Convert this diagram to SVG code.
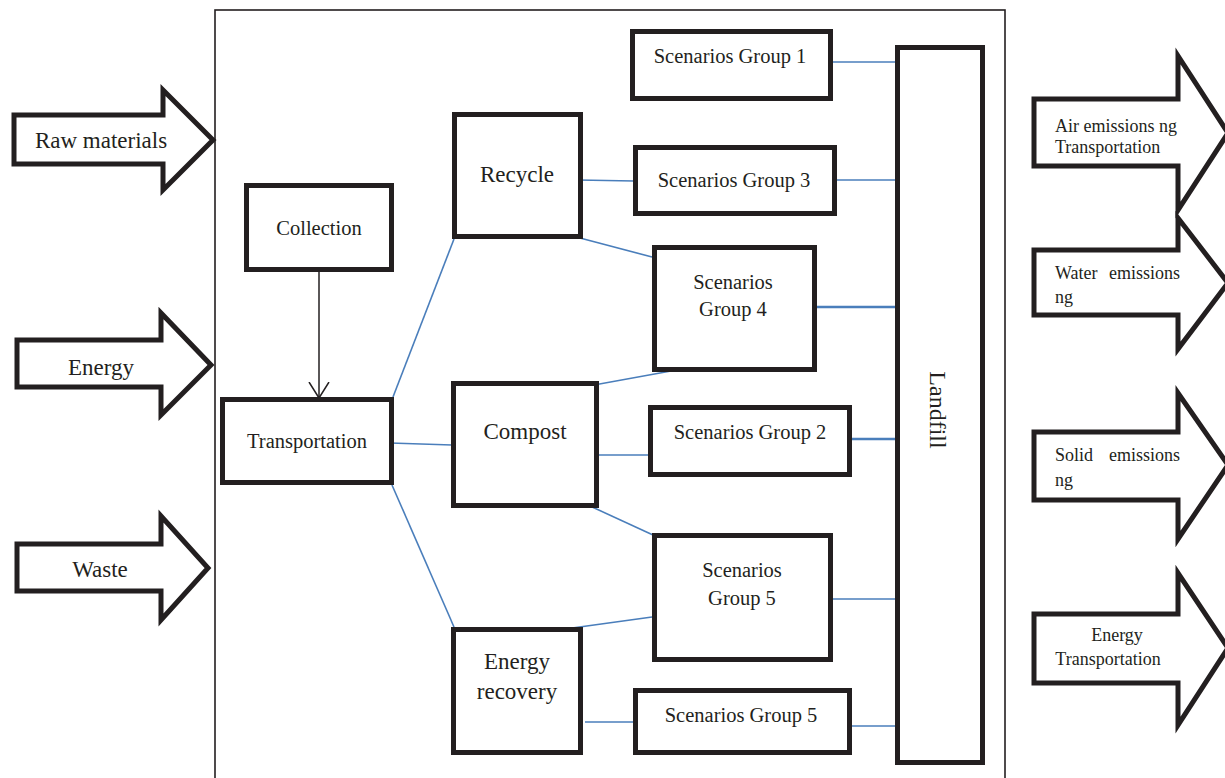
<svg xmlns="http://www.w3.org/2000/svg" width="1225" height="778" viewBox="0 0 1225 778">
<style>
.box{fill:#fff;stroke:#231f20;stroke-width:5}
.arr{fill:#fff;stroke:#231f20;stroke-width:5;stroke-linejoin:miter}
.t{font-family:"Liberation Serif","Times New Roman",serif;font-size:20.5px;fill:#231f20;text-anchor:middle}
.b{font-size:23px}
.s{font-family:"Liberation Serif","Times New Roman",serif;font-size:18px;fill:#231f20}
.c{stroke:#4a7ebb;stroke-width:1.6;fill:none}
</style>
<defs>
<marker id="open" markerWidth="20" markerHeight="24" refX="16" refY="10" orient="auto" markerUnits="userSpaceOnUse" viewBox="0 0 20 20">
<path d="M0,0 L16,10 L0,20" fill="none" stroke="#231f20" stroke-width="1.5"/>
</marker>
</defs>
<rect width="1225" height="778" fill="#fff"/>
<g id="frame"><rect x="215" y="10" width="790" height="790" fill="none" stroke="#231f20" stroke-width="1.6"/></g>

<g id="in-raw"><polygon class="arr" points="14,115 163,115 163,90 213,140 163,190 163,164 14,164"/><text class="t b" x="101" y="148">Raw materials</text></g>
<g id="in-energy"><polygon class="arr" points="17,340 161,340 161,313 211,365 161,415 161,387 17,387"/><text class="t b" x="101" y="375">Energy</text></g>
<g id="in-waste"><polygon class="arr" points="17,544 161,544 161,516 208,568 161,620 161,591 17,591"/><text class="t b" x="100" y="577">Waste</text></g>

<g id="out-air"><polygon class="arr" points="1034,99 1178,99 1178,56 1228,133 1178,210 1178,166 1034,166"/><text class="s" x="1055" y="132">Air emissions ng</text><text class="s" x="1055" y="153">Transportation</text></g>
<g id="out-water"><polygon class="arr" points="1034,250 1178,250 1178,218 1228,283 1178,349 1178,315 1034,315"/><text class="s" x="1055" y="279">Water</text><text class="s" x="1180" y="279" text-anchor="end">emissions</text><text class="s" x="1055" y="303">ng</text></g>
<g id="out-solid"><polygon class="arr" points="1034,432 1178,432 1178,393 1228,465 1178,539 1178,500 1034,500"/><text class="s" x="1055" y="461">Solid</text><text class="s" x="1180" y="461" text-anchor="end">emissions</text><text class="s" x="1055" y="486">ng</text></g>
<g id="out-energy"><polygon class="arr" points="1034,614 1178,614 1178,573 1228,648 1178,725 1178,683 1034,683"/><text class="s" x="1117" y="641" text-anchor="middle">Energy</text><text class="s" x="1108" y="665" text-anchor="middle">Transportation</text></g>

<g id="connectors">
<line x1="319" y1="272" x2="319" y2="398" stroke="#231f20" stroke-width="1.5" marker-end="url(#open)"/>
<line class="c" x1="393" y1="397" x2="454" y2="239"/>
<line class="c" x1="390" y1="443" x2="452" y2="445"/>
<line class="c" x1="392" y1="485" x2="454" y2="627"/>
<line class="c" x1="578" y1="180" x2="634" y2="181"/>
<line class="c" x1="580" y1="238" x2="652" y2="257"/>
<line class="c" x1="594" y1="385" x2="671" y2="371"/>
<line class="c" x1="596" y1="455" x2="649" y2="455"/>
<line class="c" x1="590" y1="506" x2="653" y2="535"/>
<line class="c" x1="565" y1="629" x2="652" y2="617"/>
<line class="c" x1="585" y1="722" x2="633" y2="722"/>
<line class="c" x1="833" y1="62" x2="897" y2="62"/>
<line class="c" x1="837" y1="180" x2="897" y2="180"/>
<line class="c" x1="817" y1="307" x2="897" y2="307" style="stroke-width:2.5"/>
<line class="c" x1="852" y1="439" x2="897" y2="439" style="stroke-width:2.5"/>
<line class="c" x1="833" y1="599" x2="897" y2="599"/>
<line class="c" x1="847" y1="726" x2="897" y2="726"/>
</g>

<g id="collection"><rect class="box" x="246.5" y="185.5" width="145" height="84"/><text class="t" x="319" y="235">Collection</text></g>
<g id="transportation"><rect class="box" x="222.5" y="399.5" width="169" height="83"/><text class="t" x="307" y="448">Transportation</text></g>
<g id="recycle"><rect class="box" x="454.5" y="114.5" width="126" height="122"/><text class="t b" x="517" y="182">Recycle</text></g>
<g id="compost"><rect class="box" x="453.5" y="383.5" width="143" height="122"/><text class="t b" x="525" y="439">Compost</text></g>
<g id="energy-recovery"><rect class="box" x="453.5" y="629.5" width="127" height="123"/><text class="t b" x="517" y="669">Energy</text><text class="t b" x="517" y="699">recovery</text></g>
<g id="sg1"><rect class="box" x="632.5" y="31.5" width="198" height="67"/><text class="t" x="730" y="63">Scenarios Group 1</text></g>
<g id="sg3"><rect class="box" x="635.5" y="147.5" width="199" height="66"/><text class="t" x="734" y="187">Scenarios Group 3</text></g>
<g id="sg4"><rect class="box" x="654.5" y="247.5" width="160" height="122"/><text class="t" x="733" y="289">Scenarios</text><text class="t" x="733" y="316">Group 4</text></g>
<g id="sg2"><rect class="box" x="650.5" y="407.5" width="199" height="67"/><text class="t" x="750" y="439">Scenarios Group 2</text></g>
<g id="sg5a"><rect class="box" x="654.5" y="535.5" width="176" height="124"/><text class="t" x="742" y="577">Scenarios</text><text class="t" x="742" y="605">Group 5</text></g>
<g id="sg5b"><rect class="box" x="635.5" y="690.5" width="214" height="62"/><text class="t" x="741" y="722">Scenarios Group 5</text></g>
<g id="landfill"><rect class="box" x="897.5" y="47.5" width="85" height="715"/><text class="t" transform="translate(930,410) rotate(90)" x="0" y="0" style="font-size:24px">Landfill</text></g>
</svg>
